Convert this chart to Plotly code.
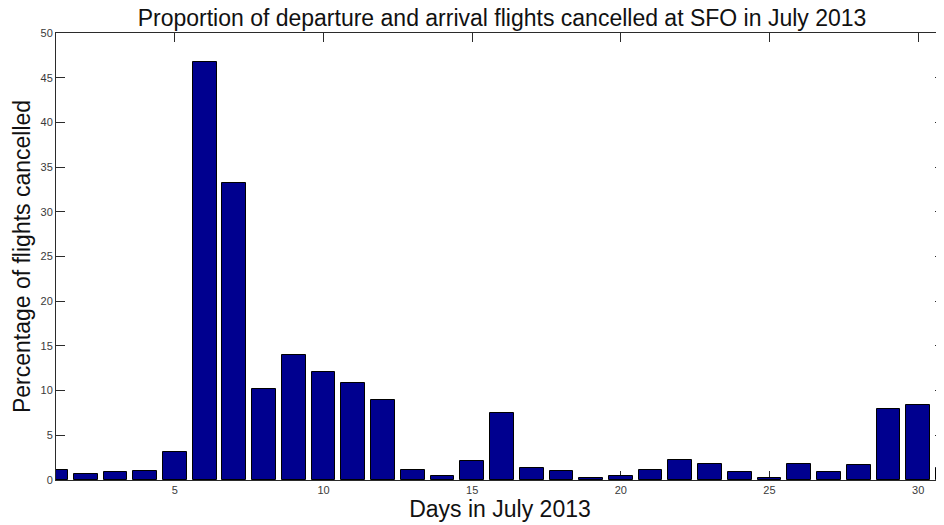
import plotly.graph_objects as go

# ── data ─────────────────────────────────────────────────────────────────────

days = list(range(1, 32))
pct_cancelled = [
    1.1, 0.64, 0.9, 1.0, 3.1, 46.8, 33.2, 10.15, 14.0, 12.1,
    10.8, 9.0, 1.08, 0.45, 2.1, 7.5, 1.3, 1.0, 0.26, 0.45,
    1.1, 2.2, 1.8, 0.93, 0.19, 1.75, 0.9, 1.64, 7.9, 8.35, 1.3,
]
x_ticks = [5, 10, 15, 20, 25, 30]
y_ticks = [0, 5, 10, 15, 20, 25, 30, 35, 40, 45, 50]

FONT = "Liberation Sans, Arial, sans-serif"
AXIS_COLOR = "#2b2b2b"

# the page body has an 8px default margin, so the figure is sized 8px smaller
FIG_W, FIG_H = 936, 517

fig = go.Figure(go.Bar(
    x=days,
    y=pct_cancelled,
    width=0.8,
    marker=dict(color="#00008F", line=dict(color="#000000", width=1)),
    hoverinfo="x+y",
))

axis_common = dict(
    showgrid=False, zeroline=False,
    showline=True, linecolor=AXIS_COLOR, linewidth=1,
    mirror="allticks", ticks="inside", ticklen=9, tickwidth=1,
    tickcolor=AXIS_COLOR,
    tickfont=dict(family=FONT, size=11, color="#3a3a3a"),
    layer="below traces",
)

fig.update_layout(
    width=FIG_W, height=FIG_H,
    margin=dict(l=48, r=0, t=25, b=45),
    plot_bgcolor="white", paper_bgcolor="white",
    showlegend=False,
    bargap=0,
    title=dict(
        text="Proportion of departure and arrival flights cancelled at SFO in July 2013",
        font=dict(family=FONT, size=23, color="#111111"),
        x=494 / FIG_W, xanchor="center",
        y=1 - 2 / FIG_H, yanchor="top", yref="container",
    ),
    xaxis=dict(
        range=[1, 30.87], tickvals=x_ticks,
        title=dict(text="Days in July 2013", standoff=4,
                   font=dict(family=FONT, size=23, color="#111111")),
        **axis_common,
    ),
    yaxis=dict(
        range=[0, 50], tickvals=y_ticks,
        title=dict(text="Percentage of flights cancelled", standoff=3,
                   font=dict(family=FONT, size=23, color="#111111")),
        **axis_common,
    ),
)

fig.write_html("out.html")
